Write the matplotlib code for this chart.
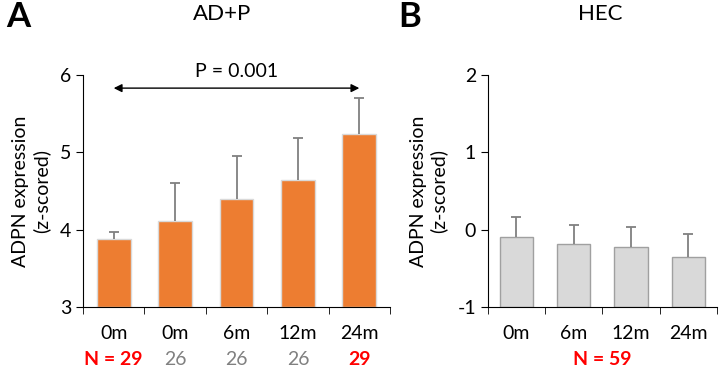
import numpy as np
import matplotlib.pyplot as plt
from matplotlib.transforms import blended_transform_factory

plt.rcParams['font.family'] = ['Lato', 'DejaVu Sans']
plt.rcParams['axes.unicode_minus'] = False

# panel A data
a_labels = ['0m', '0m', '6m', '12m', '24m']
a_means = [3.88, 4.11, 4.40, 4.64, 5.24]
a_err = [0.09, 0.49, 0.55, 0.55, 0.46]
a_n = ['N = 29', '26', '26', '26', '29']
a_n_colors = ['red', 'gray', 'gray', 'gray', 'red']

# panel B data
b_labels = ['0m', '6m', '12m', '24m']
b_means = [-0.095, -0.19, -0.22, -0.35]
b_err = [0.255, 0.25, 0.25, 0.30]
b_n = 'N = 59'

fig = plt.figure(figsize=(7.2, 3.73), dpi=100)
axA = fig.add_axes([0.1153, 0.177, 0.4264, 0.622])
axB = fig.add_axes([0.6774, 0.177, 0.3185, 0.622])


def style_axes(ax, n, ylim, yticks):
    ax.set_xlim(-0.5, n - 0.5)
    ax.set_ylim(*ylim)
    ax.set_yticks(yticks)
    ax.spines['top'].set_visible(False)
    ax.spines['right'].set_visible(False)
    ax.set_xticks(np.arange(n + 1) - 0.5, minor=True)
    ax.tick_params(axis='x', which='major', length=0, pad=13, labelsize=14)
    ax.tick_params(axis='x', which='minor', length=5, direction='out')
    ax.tick_params(axis='y', length=5, labelsize=14)
    ax.set_ylabel('ADPN expression\n(z-scored)', fontsize=14, labelpad=7)


def upper_errors(ax, x, means, err):
    # one-sided error bars: hide the lower cap
    _, caps, _ = ax.errorbar(x, means, yerr=[np.zeros(len(err)), err], fmt='none',
                             ecolor='#808080', elinewidth=1.3, capsize=3.5,
                             capthick=1.3)
    caps[0].set_visible(False)


# Panel A
xa = np.arange(len(a_means))
axA.bar(xa, np.array(a_means) - 3, bottom=3, width=0.55, color='#ED7D31',
        edgecolor='#d9d9d9', linewidth=1)
upper_errors(axA, xa, a_means, a_err)
style_axes(axA, len(a_means), (3, 6), [3, 4, 5, 6])
axA.set_xticks(xa)
axA.set_xticklabels(a_labels)
axA.annotate('', xy=(xa[-1], 5.83), xytext=(xa[0], 5.83),
             arrowprops=dict(arrowstyle='<|-|>', color='black', lw=1,
                             mutation_scale=12, shrinkA=0, shrinkB=0),
             annotation_clip=False)
axA.text(2, 6.04, 'P = 0.001', ha='center', va='center', fontsize=14,
         clip_on=False)
trA = blended_transform_factory(axA.transData, axA.transAxes)
for x, t, c in zip(xa, a_n, a_n_colors):
    axA.text(x, -0.228, t, transform=trA, ha='center', va='center',
             fontsize=14, color=c, fontweight='bold' if c == 'red' else 'normal')

# Panel B
xb = np.arange(len(b_means))
axB.bar(xb, np.array(b_means) + 1, bottom=-1, width=0.58, color='#D9D9D9',
        edgecolor='#a0a0a0', linewidth=1)
upper_errors(axB, xb, b_means, b_err)
style_axes(axB, len(b_means), (-1, 2), [-1, 0, 1, 2])
axB.set_xticks(xb)
axB.set_xticklabels(b_labels)
axB.text(0.5, -0.228, b_n, transform=axB.transAxes, ha='center', va='center',
         fontsize=14, color='red', fontweight='bold')

# titles and panel letters
fig.text(0.308, 0.962, 'AD+P', ha='center', va='center', fontsize=16)
fig.text(0.833, 0.962, 'HEC', ha='center', va='center', fontsize=16)
fig.text(0.008, 0.955, 'A', ha='left', va='center', fontsize=25, fontweight='bold')
fig.text(0.553, 0.955, 'B', ha='left', va='center', fontsize=25, fontweight='bold')

fig.savefig('out.png', dpi=100)
